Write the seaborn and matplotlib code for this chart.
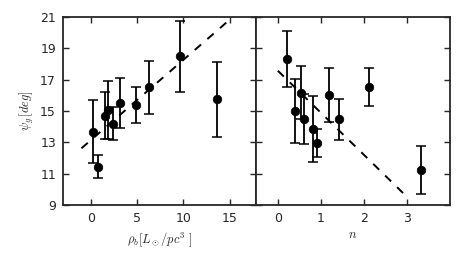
import numpy as np
import pandas as pd
import matplotlib
matplotlib.use("Agg")
import matplotlib.pyplot as plt
import seaborn as sns

# ── Data ─────────────────────────────────────────────────────────────────────
# left panel: psi_g vs bulge density rho_b
rho_b     = [0.25, 0.79, 1.51, 1.87, 2.41, 3.20, 4.85, 6.30, 9.67, 13.6]
psi_left  = [13.68, 11.45, 14.70, 15.06, 14.20, 15.50, 15.38, 16.50, 18.50, 15.75]
err_left  = [2.00, 0.75, 1.50, 1.85, 1.07, 1.60, 1.12, 1.70, 2.27, 2.40]
fit_left_x = [-1.0, 18.0]
fit_left_y = [12.62, 12.62 + 0.5125 * 19.0]

# right panel: psi_g vs Sersic index n
n_idx     = [0.22, 0.53, 0.39, 0.62, 0.82, 0.91, 1.19, 1.43, 2.12, 3.33]
psi_right = [18.32, 16.17, 15.02, 14.47, 13.83, 12.98, 16.02, 14.47, 16.55, 11.24]
err_right = [1.80, 1.70, 2.04, 1.60, 2.10, 0.90, 1.70, 1.32, 1.20, 1.55]
fit_right_x = [0.0, 3.0]
fit_right_y = [17.57, 9.53]

yticks = [9, 11, 13, 15, 17, 19, 21]

# ── Style ────────────────────────────────────────────────────────────────────
sns.set_style("ticks")
plt.rcParams["font.family"] = ["DejaVu Sans"]
plt.rcParams["lines.scale_dashes"] = False
plt.rcParams["mathtext.fontset"] = "cm"

fig = plt.figure(figsize=(4.63, 2.64), dpi=100)
ax1 = fig.add_axes([0.136, 0.2235, 0.4177, 0.7121])
ax2 = fig.add_axes([0.5537, 0.2235, 0.4177, 0.7121])

panels = [
    (ax1, rho_b, psi_left, err_left, fit_left_x, fit_left_y, (-3, 17.9), [0, 5, 10, 15]),
    (ax2, n_idx, psi_right, err_right, fit_right_x, fit_right_y, (-0.5, 4.0), [0, 1, 2, 3]),
]

for ax, xs, ys, es, fx, fy, xlim, xt in panels:
    df = pd.DataFrame({"x": xs, "y": ys})
    fit = pd.DataFrame({"x": fx, "y": fy})
    ax.errorbar(xs, ys, yerr=es, fmt="none", ecolor="black", elinewidth=1.3,
                capsize=3.6, capthick=1.1, zorder=2)
    sns.scatterplot(data=df, x="x", y="y", color="black", s=38, edgecolor="black",
                    linewidth=0.5, zorder=3, ax=ax)
    sns.lineplot(data=fit, x="x", y="y", color="black", lw=1.4,
                 linestyle=(0, (6, 6)), ax=ax, zorder=1)
    ax.set_xlim(*xlim)
    ax.set_ylim(9, 21)
    ax.set_xticks(xt)
    ax.set_yticks(yticks)
    ax.tick_params(direction="in", top=True, right=True, length=4, width=1,
                   labelsize=9, pad=5)
    for sp in ax.spines.values():
        sp.set_linewidth(1.3)
        sp.set_visible(True)

ax1.set_ylabel(r"$\psi_g\,[deg]$", fontsize=9, labelpad=3)
ax1.set_xlabel(r"$\rho_b [L_\odot/pc^3\ ]$", fontsize=9)
ax2.set_xlabel(r"$n$", fontsize=9, labelpad=2)
ax2.set_ylabel("")
ax2.tick_params(labelleft=False)

fig.savefig("out.png", dpi=100)
